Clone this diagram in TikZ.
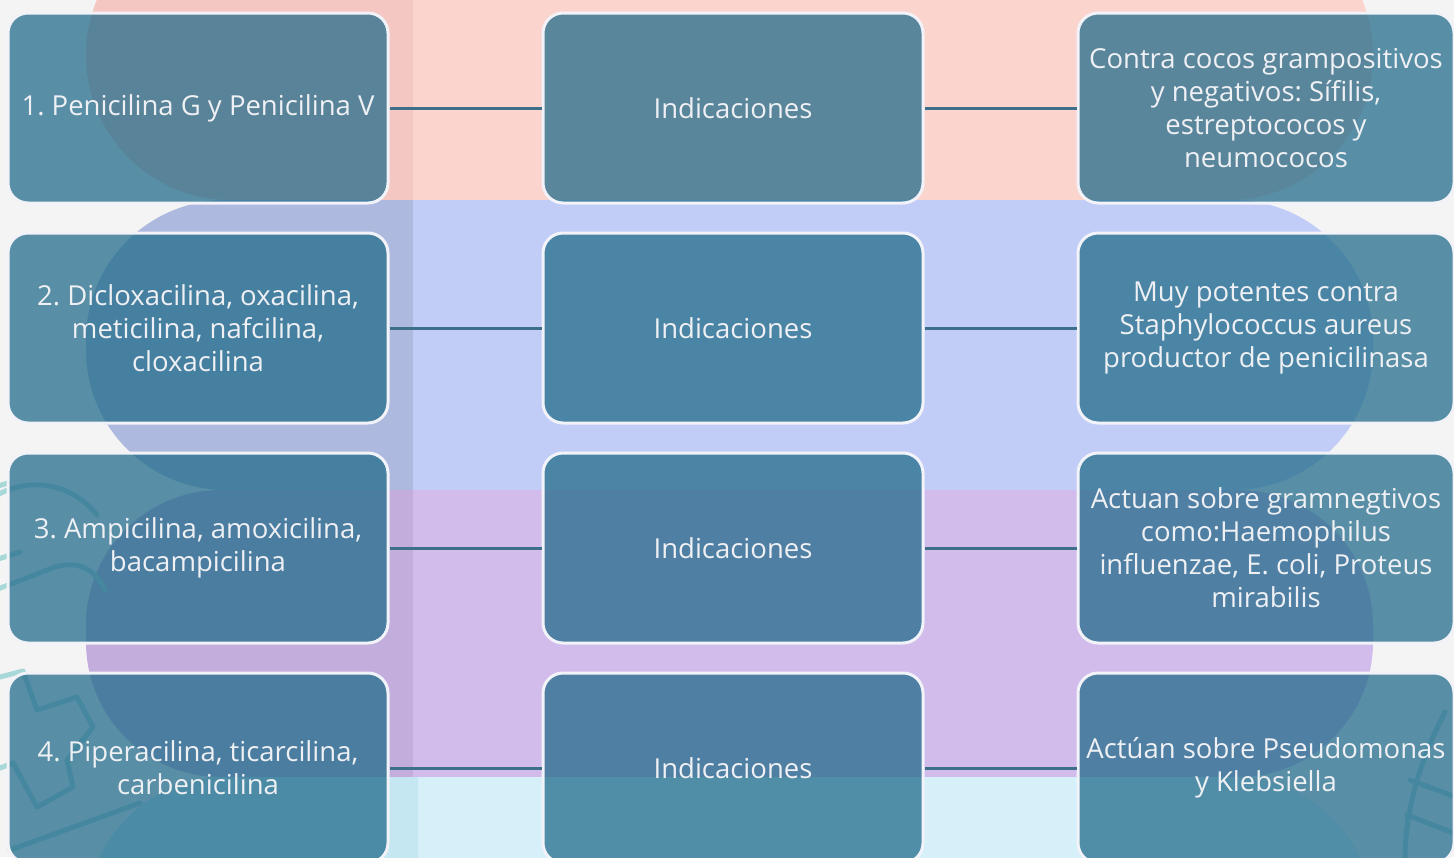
\documentclass[tikz,border=0pt]{standalone}
\usepackage{fontspec}
\setmainfont{Open Sans}
\frenchspacing
\definecolor{bgc}{HTML}{F4F4F4}
\definecolor{pinkL}{HTML}{FCD4CE}
\definecolor{pinkD}{HTML}{F5C7C2}
\definecolor{blueL}{HTML}{C1CDF7}
\definecolor{blueD}{HTML}{AEB9E0}
\definecolor{lavL}{HTML}{D1BCEC}
\definecolor{lavD}{HTML}{C2ADDD}
\definecolor{cyaL}{HTML}{D6F0FA}
\definecolor{cyaD}{HTML}{C4E7F2}
\definecolor{boxc}{HTML}{246D8C}
\definecolor{edgec}{HTML}{F2F3F8}
\definecolor{txtc}{HTML}{EEF0F4}
\definecolor{connc}{HTML}{3D6E8A}
\definecolor{decoc}{HTML}{A8D8D8}
\begin{document}
\begin{tikzpicture}[x=1pt,y=-1pt,
  tbox/.style={draw=edgec,line width=3pt,fill=boxc,fill opacity=0.75,text opacity=1,
    text=txtc,rounded corners=20pt,minimum width=380pt,minimum height=190pt,
    align=center,inner sep=0pt,font=\fontsize{27.5}{33}\selectfont},
  rbox/.style={tbox,minimum width=376pt},
  conn/.style={draw=connc,line width=3pt},
  deco/.style={draw=decoc,line width=5pt,line cap=round,line join=round}]
\useasboundingbox (0,0) rectangle (1454,857);
\clip (0,0) rectangle (1454,857);
\fill[bgc] (0,0) rectangle (1454,857);
% background bands
\begin{scope}
  \clip[rounded corners=145pt] (86,-90) rectangle (1373,200);
  \fill[pinkD] (0,-100) rectangle (413,210);
  \fill[pinkL] (413,-100) rectangle (1454,210);
\end{scope}
\begin{scope}
  \clip[rounded corners=140pt] (86,200) rectangle (1373,490);
  \fill[blueD] (0,190) rectangle (413,500);
  \fill[blueL] (413,190) rectangle (1454,500);
\end{scope}
\begin{scope}
  \clip[rounded corners=135pt] (86,490) rectangle (1373,777);
  \fill[lavD] (0,480) rectangle (413,787);
  \fill[lavL] (413,480) rectangle (1454,787);
\end{scope}
\begin{scope}
  \clip[rounded corners=140pt] (86,777) rectangle (1373,1067);
  \fill[cyaD] (0,777) rectangle (418,1080);
  \fill[cyaL] (418,777) rectangle (1454,1080);
\end{scope}
% decorations
\draw[deco] (-10,500) .. controls (15,480) and (65,475) .. (97,515);
\draw[deco] (-5,487) -- (8,483);
\draw[deco] (-10,592) -- (55,567) .. controls (80,560) and (95,570) .. (105,590);
\draw[deco] (-5,560) -- (20,552);
\draw[deco] (0,677) -- (23,671) -- (37,710) -- (77,697) -- (93,727) -- (67,760) -- (73,787) -- (37,807) -- (13,763) -- (-5,770);
\draw[deco] (10,850) -- (140,803);
\draw[deco] (1445,712) .. controls (1420,760) and (1405,810) .. (1405,860);
\draw[deco] (1410,780) -- (1456,797);
\draw[deco] (1407,815) -- (1456,834);
% boxes
\foreach \r/\yy in {1/108,2/328,3/548,4/768}{
  \node[tbox] (m\r) at (733,\yy) {Indicaciones};
}
\node[tbox] (l1) at (198,108) {1. Penicilina G y Penicilina V};
\node[tbox] (l2) at (198,328) {2. Dicloxacilina, oxacilina,\\meticilina, nafcilina,\\cloxacilina};
\node[tbox] (l3) at (198,548) {3. Ampicilina, amoxicilina,\\bacampicilina};
\node[tbox] (l4) at (198,768) {4. Piperacilina, ticarcilina,\\carbenicilina};
\node[rbox] (r1) at (1266,108) {Contra cocos grampositivos\\y negativos: Sífilis,\\estreptococos y\\neumococos};
\node[rbox] (r2) at (1266,328) {Muy potentes contra\\Staphylococcus aureus\\productor de penicilinasa};
\node[rbox] (r3) at (1266,548) {Actuan sobre gramnegtivos\\como:Haemophilus\\influenzae, E. coli, Proteus\\mirabilis};
\node[rbox] (r4) at (1266,768) {Actúan sobre Pseudomonas\\y Klebsiella};
% connectors
\foreach \r in {1,2,3,4}{
  \draw[conn] (l\r.east) -- (m\r.west);
  \draw[conn] (m\r.east) -- (r\r.west);
}
\end{tikzpicture}
\end{document}
